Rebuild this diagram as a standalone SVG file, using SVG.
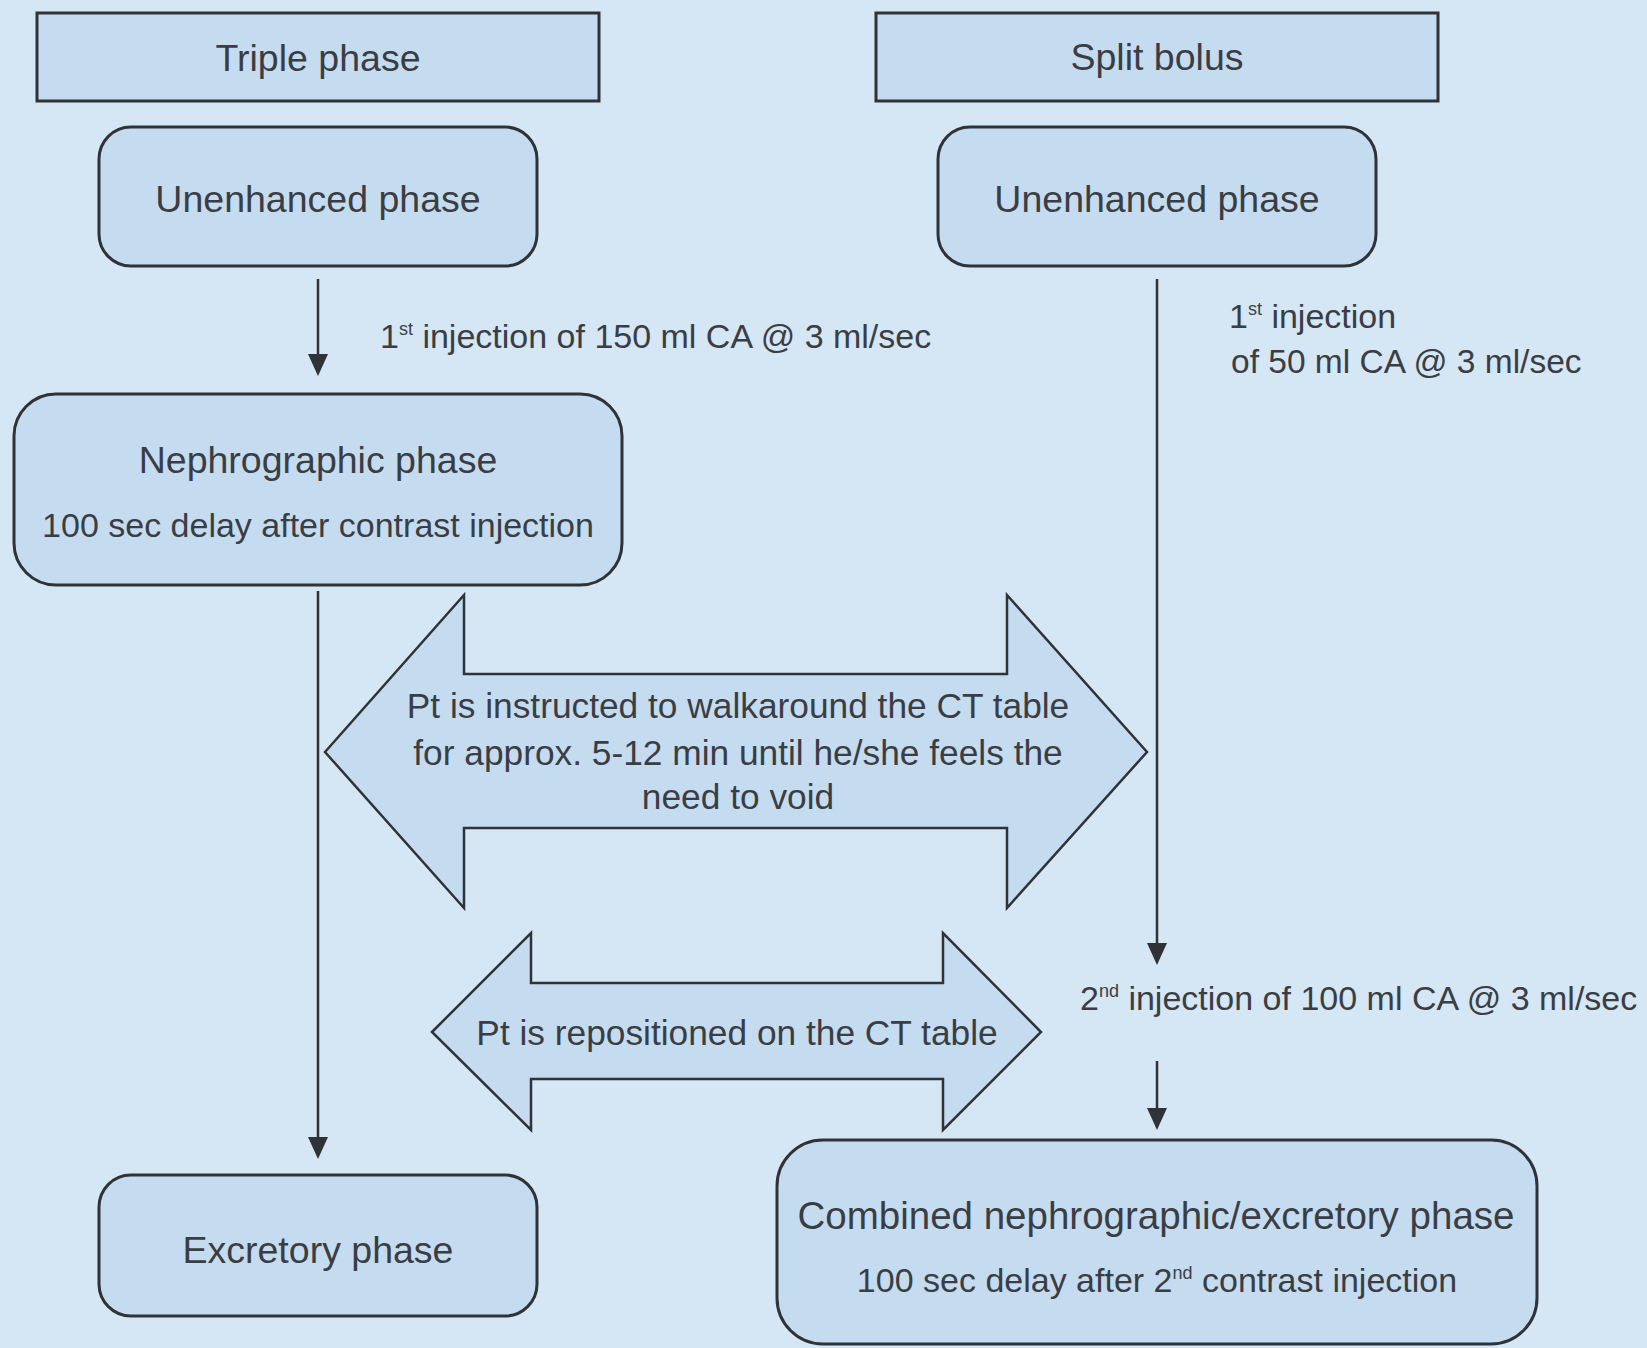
<svg xmlns="http://www.w3.org/2000/svg" width="1647" height="1348" viewBox="0 0 1647 1348">
<style>
.box{fill:#c5dcf0;stroke:#2f3338;stroke-width:3}
.dbl{fill:#c5dcf0;stroke:#2f3338;stroke-width:2.5;stroke-linejoin:miter}
.t{font-family:"Liberation Sans",Arial,sans-serif;fill:#3a3e44}
.c{text-anchor:middle}
.h{font-size:37.5px}
.s{font-size:34px}
.a{font-size:35.3px}
.lbl{font-size:34px}
.edge{stroke:#2f3338;stroke-width:2.5;fill:none;marker-end:url(#ah)}
</style>
<defs>
<marker id="ah" markerUnits="userSpaceOnUse" viewBox="0 0 22 20" refX="18" refY="10" markerWidth="22" markerHeight="20" orient="auto">
<path d="M0,0 L22,10 L0,20 z" fill="#2f3338"/>
</marker>
</defs>
<rect x="0" y="0" width="1647" height="1348" fill="#d5e6f4"/>

<g id="connectors">
<line class="edge" x1="318" y1="279" x2="318" y2="372"/>
<line class="edge" x1="318" y1="591" x2="318" y2="1155"/>
<line class="edge" x1="1157" y1="279" x2="1157" y2="961"/>
<line class="edge" x1="1157" y1="1061" x2="1157" y2="1126"/>
<text class="t lbl" x="380" y="348">1<tspan font-size="18" dy="-13">st</tspan><tspan dy="13"> injection of 150 ml CA @ 3 ml/sec</tspan></text>
<text class="t lbl" x="1229" y="328" font-size="33.5">1<tspan font-size="18" dy="-13">st</tspan><tspan dy="13"> injection</tspan></text>
<text class="t" x="1231" y="373" font-size="33.5">of 50 ml CA @ 3 ml/sec</text>
<text class="t lbl" x="1080" y="1010">2<tspan font-size="18" dy="-13">nd</tspan><tspan dy="13"> injection of 100 ml CA @ 3 ml/sec</tspan></text>
</g>

<g id="triple-phase">
<rect class="box" x="37" y="13" width="562" height="88"/>
<text class="t c h" x="318" y="71">Triple phase</text>
</g>
<g id="split-bolus">
<rect class="box" x="876" y="13" width="562" height="88"/>
<text class="t c h" x="1157" y="70">Split bolus</text>
</g>
<g id="unenhanced-left">
<rect class="box" x="99" y="127" width="438" height="139" rx="32"/>
<text class="t c h" x="318" y="212">Unenhanced phase</text>
</g>
<g id="unenhanced-right">
<rect class="box" x="938" y="127" width="438" height="139" rx="32"/>
<text class="t c h" x="1157" y="212">Unenhanced phase</text>
</g>
<g id="nephrographic">
<rect class="box" x="14" y="394" width="608" height="191" rx="42"/>
<text class="t c h" x="318" y="473">Nephrographic phase</text>
<text class="t c s" x="318" y="537">100 sec delay after contrast injection</text>
</g>
<g id="walkaround">
<path class="dbl" d="M325,752 L464,595 L464,674 L1007,674 L1007,595 L1147,752 L1007,908 L1007,828 L464,828 L464,908 Z"/>
<text class="t c a" x="738" y="718">Pt is instructed to walkaround the CT table</text>
<text class="t c a" x="738" y="765">for approx. 5-12 min until he/she feels the</text>
<text class="t c a" x="738" y="809">need to void</text>
</g>
<g id="repositioned">
<path class="dbl" d="M432,1032 L531,933 L531,983 L943,983 L943,933 L1041,1032 L943,1130 L943,1079 L531,1079 L531,1130 Z"/>
<text class="t c a" x="737" y="1045">Pt is repositioned on the CT table</text>
</g>
<g id="excretory">
<rect class="box" x="99" y="1175" width="438" height="141" rx="32"/>
<text class="t c h" x="318" y="1263">Excretory phase</text>
</g>
<g id="combined">
<rect class="box" x="777" y="1140" width="760" height="204" rx="46"/>
<text class="t c" x="1156" y="1229" font-size="38.5">Combined nephrographic/excretory phase</text>
<text class="t c s" x="1157" y="1292">100 sec delay after 2<tspan font-size="18" dy="-13">nd</tspan><tspan dy="13"> contrast injection</tspan></text>
</g>
</svg>
